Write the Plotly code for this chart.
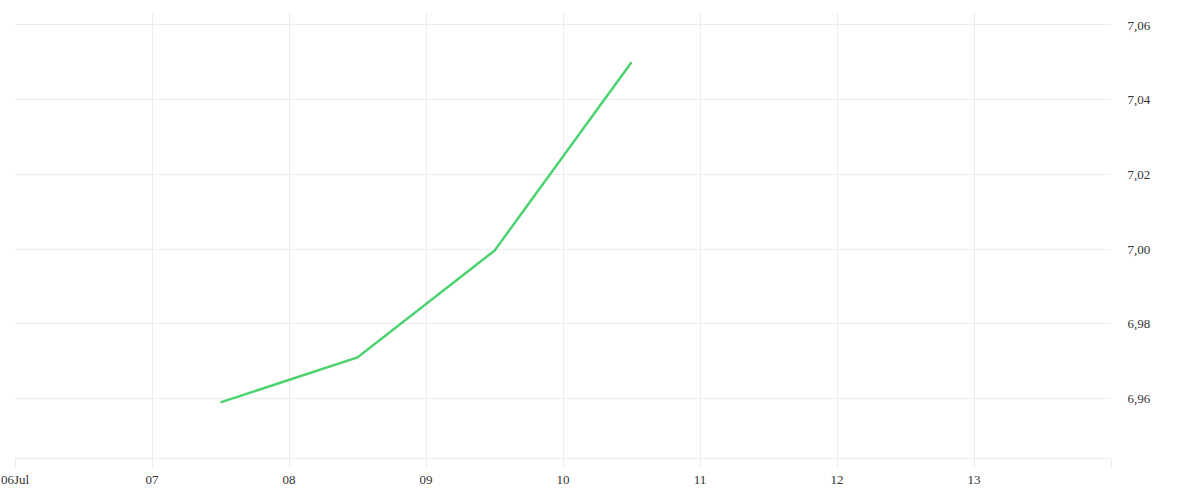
import plotly.graph_objects as go

dates = ["2023-07-07 12:00", "2023-07-08 12:00", "2023-07-09 12:00", "2023-07-10 12:00"]
values = [6.959, 6.971, 6.9996, 7.050]

tick_dates = ["2023-07-06", "2023-07-07", "2023-07-08", "2023-07-09", "2023-07-10",
              "2023-07-11", "2023-07-12", "2023-07-13", "2023-07-14"]
tick_labels = ["06Jul", "07", "08", "09", "10", "11", "12", "13", ""]
y_ticks = [6.96, 6.98, 7.00, 7.02, 7.04, 7.06]
y_labels = ["6,96", "6,98", "7,00", "7,02", "7,04", "7,06"]

grid = "#ececec"
fig = go.Figure()
fig.add_trace(go.Scatter(x=dates, y=values, mode="lines",
                         line=dict(color="#4cd26e", width=2.5), hoverinfo="skip"))
fig.update_layout(
    width=1200, height=500,
    margin=dict(l=15, r=89, t=13, b=42, autoexpand=False),
    paper_bgcolor="white", plot_bgcolor="white",
    showlegend=False,
    font=dict(family="Liberation Serif", size=13, color="#333333"),
)
fig.update_xaxes(
    range=["2023-07-06", "2023-07-14"], tickvals=tick_dates, ticktext=tick_labels,
    showgrid=True, gridcolor=grid, gridwidth=1, automargin=False,
    ticks="outside", ticklen=9, tickcolor=grid, ticklabeloverflow="allow",
    showline=True, linecolor=grid, linewidth=1, zeroline=False,
)
fig.update_yaxes(
    side="right", range=[6.9441, 7.0632], tickvals=y_ticks, ticktext=y_labels,
    showgrid=True, gridcolor=grid, gridwidth=1, automargin=False,
    ticks="outside", ticklen=13, tickcolor="rgba(0,0,0,0)",
    showline=False, zeroline=False,
)
fig.write_html("out.html", config={"displayModeBar": False},
               post_script="document.body.style.margin='0';")
